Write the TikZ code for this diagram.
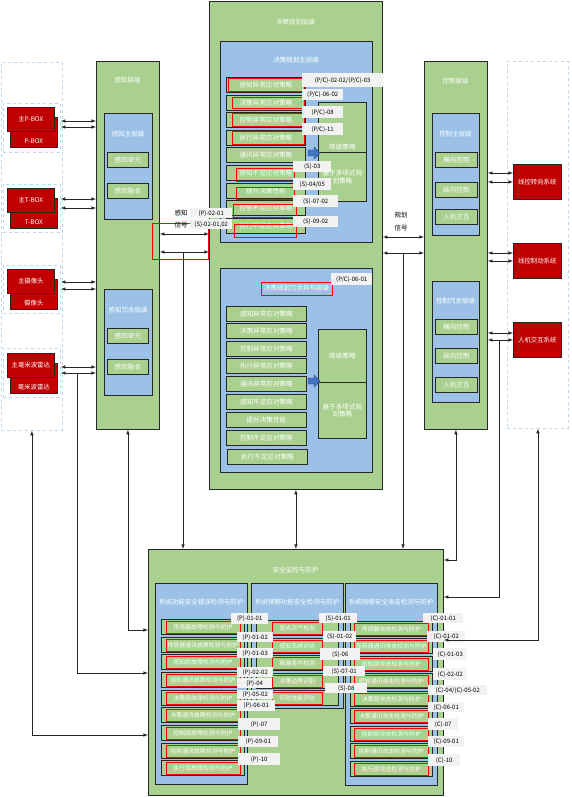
\documentclass[tikz,border=0pt]{standalone}
\usepackage{fontspec}
\setmainfont{Noto Sans CJK SC}
\usetikzlibrary{positioning}
\definecolor{grnC}{RGB}{169,208,142}
\definecolor{bluC}{RGB}{155,194,230}
\definecolor{redC}{RGB}{192,0,0}
\definecolor{edgeC}{RGB}{38,38,38}
\definecolor{dashC}{RGB}{189,215,238}
\definecolor{tagC}{RGB}{242,242,242}
\definecolor{arrC}{RGB}{68,114,196}
\begin{document}
\begin{tikzpicture}[x=1pt,y=1pt,yscale=-1,
  lay/.style={draw=edgeC,line width=0.8pt,fill=grnC,anchor=north west,inner sep=0pt},
  sub/.style={draw=edgeC,line width=0.8pt,fill=bluC,anchor=north west,inner sep=0pt},
  item/.style={draw=edgeC,line width=0.8pt,fill=grnC,anchor=north west,inner sep=0pt,minimum height=15pt,text=white,font=\fontsize{6.6}{7.5}\selectfont},
  low/.style={item,font=\fontsize{5.9}{6.5}\selectfont},
  dev/.style={draw=edgeC,line width=0.6pt,fill=redC,anchor=north west,inner sep=0pt,text=white,font=\fontsize{6.4}{7.5}\selectfont},
  devt/.style={text=white,font=\fontsize{6.4}{7.5}\selectfont,inner sep=3.5pt},
  ttl/.style={text=white,font=\fontsize{6.5}{7.5}\selectfont,inner sep=0pt},
  tag/.style={fill=tagC,anchor=north west,inner sep=0pt,font=\fontsize{6}{6.5}\selectfont},
  hlf/.style={draw=red,line width=0.8pt,minimum height=12pt,inner sep=0pt},
  zone/.style={draw=dashC,dashed,line width=0.8pt,anchor=north west,inner sep=0pt},
  sig/.style={font=\fontsize{6.5}{7.5}\selectfont,inner sep=0pt},
  bi/.style={latex-latex,line width=0.6pt,draw=edgeC},
  uni/.style={-latex,line width=0.6pt,draw=edgeC}]
\useasboundingbox (0,0) rectangle (571,798);

%Shape: left device zone
\node[zone,minimum width=61pt,minimum height=368pt] (zL) at (1,62) {};
\node[zone,minimum width=57pt,minimum height=49pt] (z1) at (3,103) {};
\node[zone,minimum width=57pt,minimum height=48pt] (z2) at (3,184) {};
\node[zone,minimum width=57pt,minimum height=48pt] (z3) at (3,265) {};
\node[zone,minimum width=57pt,minimum height=49pt] (z4) at (3,348) {};
%Shape: red devices (back / front)
\node[dev,minimum width=47pt,minimum height=30pt,label={[devt,anchor=south]south:P-BOX}] (pbox2) at (10,117) {};
\node[dev,minimum width=47pt,minimum height=24pt] (pbox1) at (7,107) {主P-BOX};
\node[dev,minimum width=47pt,minimum height=30pt,label={[devt,anchor=south]south:T-BOX}] (tbox2) at (10,198) {};
\node[dev,minimum width=47pt,minimum height=24pt] (tbox1) at (7,188) {主T-BOX};
\node[dev,minimum width=47pt,minimum height=30pt,label={[devt,anchor=south]south:摄像头}] (cam2) at (10,279) {};
\node[dev,minimum width=47pt,minimum height=24pt] (cam1) at (7,269) {主摄像头};
\node[dev,minimum width=47pt,minimum height=30pt,label={[devt,anchor=south]south:毫米波雷达}] (mmw2) at (10,363) {};
\node[dev,minimum width=47pt,minimum height=24pt] (mmw1) at (7,353) {主毫米波雷达};

%Shape: perception layer
\node[lay,minimum width=63pt,minimum height=368pt] (perc) at (96,61) {};
\node[ttl] (percT) at (127.5,80) {感知层级};
\node[sub,minimum width=48pt,minimum height=106pt] (percM) at (104,113) {};
\node[ttl] (percMT) at (128,134) {感知主层级};
\node[item,minimum width=41pt] (pm1) at (107,152) {感知单元};
\node[item,minimum width=41pt] (pm2) at (107,183) {感知融合};
\node[sub,minimum width=48pt,minimum height=106pt] (percR) at (104,289) {};
\node[ttl] (percRT) at (128,310) {感知冗余层级};
\node[item,minimum width=41pt] (pr1) at (107,328) {感知单元};
\node[item,minimum width=41pt] (pr2) at (107,359) {感知融合};

%Shape: planning layer
\node[lay,minimum width=173pt,minimum height=488pt] (plan) at (209,1) {};
\node[ttl] (planT) at (295.5,22) {决策规划层级};
\node[sub,minimum width=152pt,minimum height=201pt] (planM) at (220,41) {};
\node[ttl] (planMT) at (296,60) {决策规划主层级};
\node[item,minimum width=79pt] (sm1) at (226,77) {感知异常应对策略};
\node[item,minimum width=79pt] (sm2) at (226,95) {决策异常应对策略};
\node[item,minimum width=79pt] (sm3) at (226,112) {控制异常应对策略};
\node[item,minimum width=79pt] (sm4) at (226,130) {执行异常应对策略};
\node[item,minimum width=79pt] (sm5) at (226,147) {通讯异常应对策略};
\node[item,minimum width=79pt] (sm6) at (226,165) {感知不足应对策略};
\node[item,minimum width=79pt] (sm7) at (226,183) {提升决策性能};
\node[item,minimum width=79pt] (sm8) at (226,200) {控制不足应对策略};
\node[item,minimum width=79pt] (sm9) at (226,218) {执行不足应对策略};
\node[item,minimum width=48pt,minimum height=50pt,label={[ttl,font=\fontsize{6.6}{7.5}\selectfont,anchor=south,inner sep=3pt]south:降级策略}] (smA) at (318,102) {};
\node[item,minimum width=48pt,minimum height=49pt,align=center] (smB) at (318,152) {基于多项式规\\划策略};
%Shape: block arrow
\draw[fill=arrC,draw=arrC!70!black,line width=0.4pt] (308,150) -- (314,150) -- (314,147) -- (320,153) -- (314,159) -- (314,156) -- (308,156) -- cycle;
%Shape: red marks
\node[hlf,minimum width=76pt,minimum height=13pt] (sm1h) at (266,84.5) {};
\node[hlf,minimum width=72pt,minimum height=11pt] (sm2h) at (268,102.5) {};
\node[hlf,minimum width=72pt,minimum height=13pt] (sm3h) at (268,119.5) {};
\node[hlf,minimum width=72pt,minimum height=13pt] (sm4h) at (268,137.5) {};
\node[hlf,minimum width=58pt,minimum height=13pt] (sm6h) at (265,174.5) {};
\node[hlf,minimum width=58pt,minimum height=12pt] (sm7h) at (265,193) {};
\node[hlf,minimum width=63pt,minimum height=13pt] (sm8h) at (264.5,210.5) {};
\node[hlf,minimum width=62pt,minimum height=13pt] (sm9h) at (265,230.5) {};
% Text Node
\node[tag,minimum width=81pt,minimum height=14pt] (tPC1) at (302,73) {(P/C)-02-02/(P/C)-03};
\node[tag,minimum width=41pt,minimum height=11pt] (tPC2) at (302,89) {(P/C)-06-02};
\node[tag,minimum width=41pt,minimum height=12pt] (tPC3) at (302,106) {(P/C)-08};
\node[tag,minimum width=41pt,minimum height=12pt] (tPC4) at (302,123) {(P/C)-11};
\node[tag,minimum width=38pt,minimum height=11pt] (tS1) at (293,161) {(S)-03};
\node[tag,minimum width=38pt,minimum height=12pt] (tS2) at (293,178) {(S)-04/05};
\node[tag,minimum width=45pt,minimum height=12pt] (tS3) at (293,195) {(S)-07-02};
\node[tag,minimum width=45pt,minimum height=11pt] (tS4) at (293,216) {(S)-09-02};

\node[sub,minimum width=152pt,minimum height=204pt] (planR) at (220,268) {};
\node[ttl,draw=red,line width=0.8pt,minimum width=71pt,minimum height=13pt] (planRT) at (296.5,288.5) {决策规划冗余异构层级};
\node[tag,minimum width=41pt,minimum height=12pt] (tPC5) at (331,273) {(P/C)-06-01};
\node[item,minimum width=80pt] (sr1) at (226,306) {感知异常应对策略};
\node[item,minimum width=80pt] (sr2) at (226,323) {决策异常应对策略};
\node[item,minimum width=80pt] (sr3) at (226,341) {控制异常应对策略};
\node[item,minimum width=80pt] (sr4) at (226,358) {执行异常应对策略};
\node[item,minimum width=80pt] (sr5) at (226,376) {通讯异常应对策略};
\node[item,minimum width=80pt] (sr6) at (226,394) {感知不足应对策略};
\node[item,minimum width=80pt] (sr7) at (226,412) {提升决策性能};
\node[item,minimum width=80pt] (sr8) at (226,430) {控制不足应对策略};
\node[item,minimum width=80pt] (sr9) at (227,449) {执行不足应对策略};
\node[item,minimum width=48pt,minimum height=53pt] (srA) at (318,329) {降级策略};
\node[item,minimum width=48pt,minimum height=56pt,align=center] (srB) at (318,382) {基于多项式规\\划策略};
%Shape: block arrow
\draw[fill=arrC,draw=arrC!70!black,line width=0.4pt] (308,378) -- (314,378) -- (314,375) -- (320,381) -- (314,387) -- (314,384) -- (308,384) -- cycle;

%Shape: control layer
\node[lay,minimum width=63pt,minimum height=368pt] (ctrl) at (424,61) {};
\node[ttl] (ctrlT) at (455.5,81) {控制层级};
\node[sub,minimum width=47pt,minimum height=122pt] (ctrlM) at (432,113) {};
\node[ttl] (ctrlMT) at (455.5,134) {控制主层级};
\node[item,minimum width=42pt] (cm1) at (435,152) {横向控制};
\node[item,minimum width=42pt] (cm2) at (435,182) {纵向控制};
\node[item,minimum width=42pt] (cm3) at (435,209) {人机交互};
\node[sub,minimum width=47pt,minimum height=121pt] (ctrlR) at (432,281) {};
\node[ttl] (ctrlRT) at (455.5,301) {控制冗余层级};
\node[item,minimum width=42pt] (cr1) at (435,319) {横向控制};
\node[item,minimum width=42pt] (cr2) at (435,348) {纵向控制};
\node[item,minimum width=42pt] (cr3) at (435,377) {人机交互};

%Shape: right device zone
\node[zone,minimum width=61pt,minimum height=367pt] (zR) at (507,61) {};
\node[dev,minimum width=48pt,minimum height=35pt] (steer) at (513,164) {线控转向系统};
\node[dev,minimum width=48pt,minimum height=35pt] (brake) at (513,243) {线控制动系统};
\node[dev,minimum width=48pt,minimum height=35pt] (hmi) at (513,322) {人机交互系统};

%Shape: safety layer
\node[lay,minimum width=295pt,minimum height=246pt] (safe) at (148,549) {};
\node[ttl] (safeT) at (295.5,570) {安全监控与防护};
\node[sub,minimum width=92pt,minimum height=201pt] (safeP) at (155,583) {};
\node[ttl] (safePT) at (201,602) {系统功能安全错误检测与防护};
\node[sub,minimum width=92pt,minimum height=125pt] (safeS) at (251,583) {};
\node[ttl] (safeST) at (297,602) {系统预期功能安全检测与防护};
\node[sub,minimum width=92pt,minimum height=202pt] (safeC) at (345,583) {};
\node[ttl] (safeCT) at (391,602) {系统网络安全攻击检测与防护};

\node[low,minimum width=83pt] (sp1) at (161,619) {传感器故障检测与防护};
\node[low,minimum width=83pt] (sp2) at (161,637) {传感器通讯故障检测与防护};
\node[low,minimum width=83pt] (sp3) at (161,654) {感知层故障检测与防护};
\node[low,minimum width=83pt] (sp4) at (161,672) {感知通讯故障检测与防护};
\node[low,minimum width=83pt] (sp5) at (161,690) {决策层故障检测与防护};
\node[low,minimum width=83pt] (sp6) at (161,707) {决策通讯故障检测与防护};
\node[low,minimum width=83pt] (sp7) at (161,725) {控制层故障检测与防护};
\node[low,minimum width=83pt] (sp8) at (161,743) {控制通讯故障检测与防护};
\node[low,minimum width=83pt] (sp9) at (161,760) {执行层故障检测与防护};
\node[hlf,minimum width=74pt] (sp1h) at (sp1.center) {};
\node[hlf,minimum width=74pt] (sp2h) at (sp2.center) {};
\node[hlf,minimum width=74pt] (sp3h) at (sp3.center) {};
\node[hlf,minimum width=74pt] (sp4h) at (sp4.center) {};
\node[hlf,minimum width=74pt] (sp5h) at (sp5.center) {};
\node[hlf,minimum width=74pt] (sp6h) at (sp6.center) {};
\node[hlf,minimum width=74pt] (sp7h) at (sp7.center) {};
\node[hlf,minimum width=74pt] (sp8h) at (sp8.center) {};
\node[hlf,minimum width=74pt] (sp9h) at (sp9.center) {};

\node[low,minimum width=82pt] (ss1) at (256,620) {恶劣天气检测};
\node[low,minimum width=82pt] (ss2) at (256,638) {感知系统评估};
\node[low,minimum width=82pt] (ss3) at (256,655) {极端条件检测};
\node[low,minimum width=82pt] (ss4) at (256,673) {决策边界识别};
\node[low,minimum width=82pt] (ss5) at (256,690) {风险性能评估};
\node[hlf,minimum width=50pt] (ss1h) at (ss1.center) {};
\node[hlf,minimum width=50pt] (ss2h) at (ss2.center) {};
\node[hlf,minimum width=50pt] (ss3h) at (ss3.center) {};
\node[hlf,minimum width=50pt] (ss4h) at (ss4.center) {};
\node[hlf,minimum width=50pt] (ss5h) at (ss5.center) {};

\node[low,minimum width=82pt] (sc1) at (350,621) {传感器攻击检测与防护};
\node[low,minimum width=82pt] (sc2) at (350,638) {传感器通讯攻击检测与防护};
\node[low,minimum width=82pt] (sc3) at (350,656) {感知层攻击检测与防护};
\node[low,minimum width=82pt] (sc4) at (350,673) {感知通讯攻击检测与防护};
\node[low,minimum width=82pt] (sc5) at (350,691) {决策层攻击检测与防护};
\node[low,minimum width=82pt] (sc6) at (350,708) {决策通讯攻击检测与防护};
\node[low,minimum width=82pt] (sc7) at (350,726) {控制层攻击检测与防护};
\node[low,minimum width=82pt] (sc8) at (350,743) {控制通讯攻击检测与防护};
\node[low,minimum width=82pt] (sc9) at (350,761) {执行层攻击检测与防护};
\node[hlf,minimum width=74pt] (sc1h) at (sc1.center) {};
\node[hlf,minimum width=74pt] (sc2h) at (sc2.center) {};
\node[hlf,minimum width=74pt] (sc3h) at (sc3.center) {};
\node[hlf,minimum width=74pt] (sc4h) at (sc4.center) {};
\node[hlf,minimum width=74pt] (sc5h) at (sc5.center) {};
\node[hlf,minimum width=74pt] (sc6h) at (sc6.center) {};
\node[hlf,minimum width=74pt] (sc7h) at (sc7.center) {};
\node[hlf,minimum width=74pt] (sc8h) at (sc8.center) {};
\node[hlf,minimum width=74pt] (sc9h) at (sc9.center) {};

% Text Node
\node[tag,minimum width=37pt,minimum height=11pt] (tP1) at (231,613) {(P)-01-01};
\node[tag,minimum width=36pt,minimum height=10pt] (tP2) at (237,632) {(P)-01-02};
\node[tag,minimum width=36pt,minimum height=10pt] (tP3) at (237,648) {(P)-01-03};
\node[tag,minimum width=36pt,minimum height=10pt] (tP4) at (237,667) {(P)-02-02};
\node[tag,minimum width=35pt,minimum height=10pt] (tP5) at (237,678) {(P)-04};
\node[tag,minimum width=36pt,minimum height=9pt] (tP6) at (237,690) {(P)-05-02};
\node[tag,minimum width=38pt,minimum height=11pt] (tP7) at (237,700) {(P)-06-01};
\node[tag,minimum width=42pt,minimum height=12pt] (tP8) at (238,718) {(P)-07};
\node[tag,minimum width=40pt,minimum height=11pt] (tP9) at (238,736) {(P)-09-01};
\node[tag,minimum width=42pt,minimum height=12pt] (tP10) at (238,753) {(P)-10};
\node[tag,minimum width=38pt,minimum height=10pt] (tS5) at (319,613) {(S)-01-01};
\node[tag,minimum width=33pt,minimum height=11pt] (tS6) at (323,631) {(S)-01-02};
\node[tag,minimum width=40pt,minimum height=12pt] (tS7) at (320,648) {(S)-06};
\node[tag,minimum width=42pt,minimum height=10pt] (tS8) at (323,666) {(S)-07-01};
\node[tag,minimum width=42pt,minimum height=10pt] (tS9) at (325,683) {(S)-08};
\node[tag,minimum width=40pt,minimum height=10pt] (tC1) at (423,613) {(C)-01-01};
\node[tag,minimum width=38pt,minimum height=11pt] (tC2) at (427,631) {(C)-01-02};
\node[tag,minimum width=34pt,minimum height=12pt] (tC3) at (433,648) {(C)-01-03};
\node[tag,minimum width=34pt,minimum height=12pt] (tC4) at (433,668) {(C)-02-02};
\node[tag,minimum width=59pt,minimum height=10pt] (tC5) at (428,685) {(C)-04/(C)-05-02};
\node[tag,minimum width=36pt,minimum height=10pt] (tC6) at (428,702) {(C)-06-01};
\node[tag,minimum width=30pt,minimum height=12pt] (tC7) at (428,718) {(C)-07};
\node[tag,minimum width=36pt,minimum height=11pt] (tC8) at (428,736) {(C)-09-01};
\node[tag,minimum width=32pt,minimum height=12pt] (tC9) at (428,754) {(C)-10};

%Shape: signal links
\draw[red,line width=0.8pt] (152,223) rectangle (208,259);
\node[sig] (sigP1) at (181,213) {感知};
\node[sig] (sigP2) at (181,225) {信号};
\node[tag,minimum width=42pt,minimum height=10pt] (tP0) at (190,208) {(P)-02-01};
\node[tag,minimum width=42pt,minimum height=10pt] (tS0) at (190,219) {(S)-02-01,02};
\node[sig] (sigC1) at (401,215) {规划};
\node[sig] (sigC2) at (401,228) {信号};

\draw[bi] (z1.east |- 0,121) -- (perc.west |- 0,121);
\draw[bi] (z1.east |- 0,127) -- (perc.west |- 0,127);
\draw[bi] (z2.east |- 0,199) -- (perc.west |- 0,199);
\draw[bi] (z2.east |- 0,208) -- (perc.west |- 0,208);
\draw[bi] (z3.east |- 0,282) -- (perc.west |- 0,282);
\draw[bi] (z3.east |- 0,289) -- (perc.west |- 0,289);
\draw[bi] (z4.east |- 0,367) -- (perc.west |- 0,367);
\draw[bi] (z4.east |- 0,373) -- (perc.west |- 0,373);
\draw[bi] (perc.east |- 0,234) -- (plan.west |- 0,234);
\draw[bi] (perc.east |- 0,252) -- (plan.west |- 0,252);
\draw[bi] (plan.east |- 0,237) -- (ctrl.west |- 0,237);
\draw[bi] (plan.east |- 0,253) -- (ctrl.west |- 0,253);
\draw[bi] (ctrl.east |- 0,173) -- (steer.west |- 0,173);
\draw[bi] (ctrl.east |- 0,182) -- (steer.west |- 0,182);
\draw[bi] (ctrl.east |- 0,253) -- (brake.west |- 0,253);
\draw[bi] (ctrl.east |- 0,261) -- (brake.west |- 0,261);
\draw[bi] (ctrl.east |- 0,333) -- (hmi.west |- 0,333);
\draw[bi] (ctrl.east |- 0,340) -- (hmi.west |- 0,340);

\coordinate (jP) at (183,252);
\coordinate (jC) at (403,253);
\coordinate (jM) at (77,373);
\coordinate (jH) at (499,340);
\draw[uni] (jP) -- (jP |- safe.north);
\draw[uni] (jC) -- (jC |- safe.north);
\draw[bi] (plan.south) -- (safe.north -| plan.south);
\draw[bi] (zL.south) |- (safe.west |- 0,735);
\draw[uni] (jM) |- (safe.west |- 0,673);
\draw[bi] (perc.south) |- (safe.west |- 0,630);
\draw[bi] (ctrl.south) |- (safe.east |- 0,560);
\draw[uni] (jH) |- (safe.east |- 0,597);
\draw[bi] (zR.south) |- (safe.east |- 0,640);

\end{tikzpicture}
\end{document}
